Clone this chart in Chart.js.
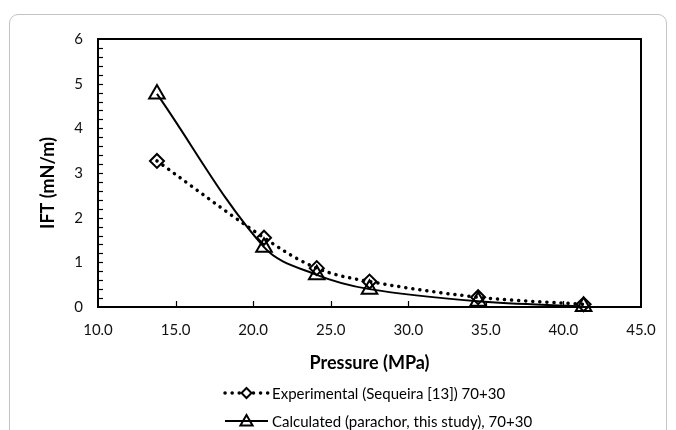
<!DOCTYPE html>
<html>
<head>
<meta charset="utf-8">
<script src="https://cdn.jsdelivr.net/npm/chart.js@4.4.1/dist/chart.umd.min.js"></script>
<style>
  html, body { margin: 0; padding: 0; background: #fff; }
  #wrap { position: relative; width: 676px; height: 430px; overflow: hidden; }
  #frame { position: absolute; left: 9px; top: 14px; width: 658px; height: 440px;
           border: 1px solid #c4c4c4; border-radius: 9px; box-sizing: border-box; }
  canvas { position: absolute; left: 0; top: 0; }
</style>
</head>
<body>
<div id="wrap">
  <div id="frame"></div>
  <canvas id="c" width="676" height="430"></canvas>
</div>
<script>
// ---- data ----
const pressureExp = [13.8, 20.7, 24.1, 27.5, 34.5, 41.3];
const iftExp      = [3.27, 1.55, 0.87, 0.57, 0.22, 0.06];
const pressureCalc = [13.8, 20.7, 24.1, 27.5, 34.5, 41.3];
const iftCalc      = [4.77, 1.34, 0.72, 0.40, 0.13, 0.01];
const seriesNames = ['Experimental (Sequeira [13]) 70+30', 'Calculated (parachor, this study), 70+30'];
const xTickValues = [10, 15, 20, 25, 30, 35, 40, 45];
const yTickValues = [0, 1, 2, 3, 4, 5, 6];
const yMinorStep = 0.2;
const xTitle = 'Pressure (MPa)';
const yTitle = 'IFT (mN/m)';

const FONT = 'Lato, "Open Sans", sans-serif';

function toPoints(xs, ys) { return xs.map((x, i) => ({ x: x, y: ys[i] })); }

function drawDiamond(ctx, x, y, r) {
  ctx.beginPath();
  ctx.moveTo(x, y - r); ctx.lineTo(x + r, y); ctx.lineTo(x, y + r); ctx.lineTo(x - r, y); ctx.closePath();
  ctx.stroke();
}
function drawTriangle(ctx, x, y, r) {
  ctx.beginPath();
  ctx.moveTo(x, y - r); ctx.lineTo(x + r * 0.87, y + r * 0.5); ctx.lineTo(x - r * 0.87, y + r * 0.5); ctx.closePath();
  ctx.stroke();
}

const decorPlugin = {
  id: 'decor',
  afterDraw(chart) {
    const { ctx, chartArea: a, scales } = chart;
    const xs = scales.x, ys = scales.y;
    ctx.save();
    // plot box
    ctx.strokeStyle = '#000';
    ctx.lineWidth = 2;
    ctx.strokeRect(a.left, a.top, a.right - a.left, a.bottom - a.top);
    // y ticks (major + minor), inside
    ctx.lineWidth = 1.2;
    const yMin = yTickValues[0], yMax = yTickValues[yTickValues.length - 1];
    const n = Math.round((yMax - yMin) / yMinorStep);
    for (let i = 1; i < n; i++) {
      const py = Math.round(ys.getPixelForValue(yMin + i * yMinorStep)) + 0.5;
      ctx.beginPath(); ctx.moveTo(a.left, py); ctx.lineTo(a.left + 5, py); ctx.stroke();
    }
    // x ticks, inside
    xTickValues.slice(1, -1).forEach(v => {
      const px = Math.round(xs.getPixelForValue(v)) + 0.5;
      ctx.beginPath(); ctx.moveTo(px, a.bottom); ctx.lineTo(px, a.bottom - 6); ctx.stroke();
    });
    // axis titles
    ctx.fillStyle = '#000';
    ctx.font = 'bold 18px ' + FONT;
    ctx.textAlign = 'center';
    ctx.textBaseline = 'middle';
    ctx.fillText(xTitle, (a.left + a.right) / 2, 363);
    ctx.save();
    ctx.translate(48, 183);
    ctx.rotate(-Math.PI / 2);
    ctx.fillText(yTitle, 0, 0);
    ctx.restore();
    // legend
    ctx.font = '15px ' + FONT;
    ctx.textAlign = 'left';
    const lx0 = 225, lx1 = 268, tx = 272;
    // experimental
    let ly = 393;
    ctx.strokeStyle = '#000';
    ctx.lineWidth = 3.5; ctx.lineCap = 'round'; ctx.setLineDash([0.1, 7]);
    ctx.beginPath(); ctx.moveTo(lx0, ly); ctx.lineTo(lx1, ly); ctx.stroke();
    ctx.setLineDash([]); ctx.lineCap = 'butt'; ctx.lineWidth = 2;
    ctx.fillStyle = '#fff';
    ctx.fillRect((lx0 + lx1) / 2 - 5, ly - 5, 10, 10);
    drawDiamond(ctx, (lx0 + lx1) / 2, ly, 5);
    ctx.fillStyle = '#000';
    ctx.fillText(seriesNames[0], tx, ly + 1);
    // calculated
    ly = 421;
    ctx.lineWidth = 2;
    ctx.beginPath(); ctx.moveTo(lx0, ly); ctx.lineTo(lx1, ly); ctx.stroke();
    drawTriangle(ctx, (lx0 + lx1) / 2, ly + 1, 7);
    ctx.fillText(seriesNames[1], tx, ly + 1);
    ctx.restore();
  }
};

new Chart(document.getElementById('c'), {
  type: 'scatter',
  data: {
    datasets: [
      {
        label: seriesNames[0],
        data: toPoints(pressureExp, iftExp),
        showLine: true,
        borderColor: '#000',
        borderWidth: 3.5,
        borderDash: [0.1, 7],
        borderCapStyle: 'round',
        tension: 0.35,
        pointStyle: 'rectRot',
        pointRadius: 7,
        pointBorderWidth: 2,
        pointBackgroundColor: 'rgba(0,0,0,0)',
        pointBorderColor: '#000',
        clip: false
      },
      {
        label: seriesNames[1],
        data: toPoints(pressureCalc, iftCalc),
        showLine: true,
        borderColor: '#000',
        borderWidth: 2,
        tension: 0.35,
        pointStyle: 'triangle',
        pointRadius: 9,
        pointBorderWidth: 2,
        pointBackgroundColor: 'rgba(0,0,0,0)',
        pointBorderColor: '#000',
        clip: false
      }
    ]
  },
  options: {
    responsive: false,
    animation: false,
    devicePixelRatio: 1,
    layout: { padding: { top: 39, right: 35, left: 0, bottom: 55 } },
    plugins: { legend: { display: false }, tooltip: { enabled: false } },
    scales: {
      x: {
        type: 'linear',
        min: xTickValues[0],
        max: xTickValues[xTickValues.length - 1],
        afterFit: s => { s.height = 68; },
        border: { display: false },
        grid: { display: false, drawTicks: false },
        ticks: {
          stepSize: 5,
          padding: 14,
          color: '#111',
          font: { family: FONT, size: 15 },
          callback: v => Number(v).toFixed(1)
        }
      },
      y: {
        min: yTickValues[0],
        max: yTickValues[yTickValues.length - 1],
        afterFit: s => { s.width = 98; },
        border: { display: false },
        grid: { display: false, drawTicks: false },
        ticks: {
          stepSize: 1,
          padding: 15,
          color: '#111',
          font: { family: FONT, size: 15 }
        }
      }
    }
  },
  plugins: [decorPlugin]
});
</script>
</body>
</html>
